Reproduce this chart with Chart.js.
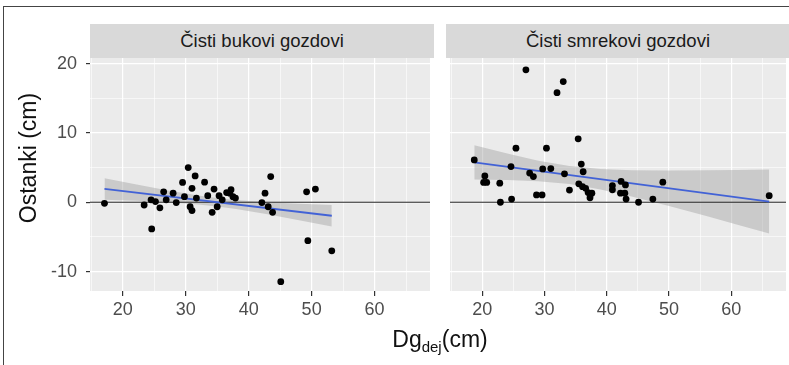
<!DOCTYPE html>
<html>
<head>
<meta charset="utf-8">
<script src="https://cdn.jsdelivr.net/npm/chart.js@4.4.1/dist/chart.umd.min.js"></script>
<style>
  html, body { margin:0; padding:0; background:#fff; }
  body { width:789px; height:365px; position:relative; overflow:hidden; font-family:"Liberation Sans", Arial, sans-serif; }
  .frame { position:absolute; left:3px; top:6px; width:800px; height:400px; border-left:1px solid #444; border-top:1px solid #444; }
  canvas { position:absolute; top:0; }
  .strip { position:absolute; top:24px; height:34px; width:344px; background:#d9d9d9; color:#1a1a1a; font-size:18.5px; line-height:34px; text-align:center; }
  .ytitle { position:absolute; left:-72px; top:144px; width:200px; height:28px; line-height:28px; font-size:23px; color:#111; text-align:center; transform:rotate(-90deg); }
  .xtitle { position:absolute; left:290px; top:324px; width:300px; height:30px; line-height:30px; font-size:23px; color:#111; text-align:center; }
  .xtitle sub { font-size:15px; line-height:1; vertical-align:-5px; }
</style>
</head>
<body>
<div class="frame"></div>
<canvas id="c1" width="434" height="365" style="left:0;width:434px;height:365px"></canvas>
<canvas id="c2" width="344" height="365" style="left:446px;width:344px;height:365px"></canvas>
<div class="strip" style="left:90px">Čisti bukovi gozdovi</div>
<div class="strip" style="left:446px">Čisti smrekovi gozdovi</div>
<div class="ytitle">Ostanki (cm)</div>
<div class="xtitle">Dg<sub>dej</sub>(cm)</div>
<script>
// ---- Data ----
const panelTitles = ["Čisti bukovi gozdovi", "Čisti smrekovi gozdovi"];

// Beech (bukovi) panel: residuals vs Dg
const bukX = [17.1,23.4,24.6,24.5,25.2,25.9,26.5,26.9,28.0,28.5,29.5,29.8,30.4,30.7,31.0,31.0,31.5,31.7,33.0,33.5,34.2,34.5,35.0,35.3,35.8,36.5,37.0,37.2,37.5,37.9,42.1,42.6,43.5,43.1,43.8,45.1,49.2,49.4,50.6,53.2];
const bukY = [-0.15,-0.4,-3.85,0.35,0.1,-0.8,1.5,0.35,1.3,-0.05,2.85,0.8,5.0,-0.65,-1.2,2.0,3.8,0.6,2.9,0.95,-1.45,1.9,-0.65,0.95,0.35,1.4,1.3,1.8,0.8,0.6,-0.05,1.3,3.7,-0.65,-1.45,-11.45,1.5,-5.55,1.9,-7.0];
const bukFitX = [17.1, 53.2];
const bukFitY = [1.92, -1.95];
const bukBandX = [17.1,22,27,32,35,38,43,48,53.2];
const bukUpper = [3.47,2.58,1.73,0.97,0.60,0.32,0.01,-0.21,-0.39];
const bukLower = [0.37,0.20,-0.01,-0.33,-0.60,-0.98,-1.73,-2.59,-3.51];

// Spruce (smrekovi) panel
const smrX = [18.7,20.4,20.2,20.7,22.8,22.9,24.7,24.6,25.4,27.0,27.6,28.2,28.7,29.6,29.7,30.3,31.0,32.0,33.0,33.2,34.0,35.4,35.9,36.2,35.5,36.1,36.6,37.0,37.3,37.6,40.9,40.9,42.3,42.2,42.9,43.0,43.1,45.1,47.4,49.0,66.1];
const smrY = [6.1,3.8,2.85,2.85,2.75,0.0,0.45,5.15,7.8,19.1,4.2,3.7,1.05,1.05,4.8,7.8,4.85,15.8,17.4,4.1,1.75,9.15,5.5,4.4,2.65,2.25,2.0,1.4,0.65,1.3,2.4,1.8,3.0,1.3,1.3,2.5,0.45,0.0,0.45,2.9,0.95];
const smrFitX = [18.7, 66.1];
const smrFitY = [5.75, 0.10];
const smrBandX = [18.7,24,29,34,39,44,50,56,61,66.1];
const smrUpper = [8.23,7.02,6.0,5.24,4.81,4.63,4.59,4.6,4.66,4.71];
const smrLower = [3.27,3.22,3.04,2.62,1.85,0.83,-0.55,-2.0,-3.24,-4.51];

const hlineY = 0;

// Axes
const xMajorTicks = [20,30,40,50,60];
const xMinorTicks = [15,25,35,45,55,65];
const yMajorTicks = [-10,0,10,20];
const yMinorTicks = [-5,5,15];
const xLimits = [14.8, 68.8];
const yLimits = [-12.8, 20.8];

// ---- Helpers ----
const zip = (xs, ys) => xs.map((x, i) => ({x: x, y: ys[i]}));

Chart.defaults.font.family = '"Liberation Sans", Arial, sans-serif';
Chart.defaults.animation = false;

const panelBg = {
  id: 'panelBg',
  beforeDraw(chart) {
    const a = chart.chartArea, ctx = chart.ctx;
    ctx.save();
    ctx.fillStyle = '#ebebeb';
    ctx.fillRect(a.left, a.top, a.right - a.left, a.bottom - a.top);
    ctx.restore();
  }
};

function buildTicks(major, minor) {
  return (scale) => {
    scale.ticks = major.concat(minor).sort((a, b) => a - b).map(v => ({value: v}));
  };
}

function makeChart(id, px, py, fx, fy, bx, bu, bl, showY) {
  const datasets = [
    { data: zip(px, py), showLine: false, pointRadius: 3.4, pointBackgroundColor: '#000', pointBorderWidth: 0, order: 0 },
    { data: zip(fx, fy), showLine: true, borderColor: '#4262d6', borderWidth: 1.8, pointRadius: 0, fill: false, order: 1 },
    { data: [{x: xLimits[0], y: hlineY}, {x: xLimits[1], y: hlineY}], showLine: true, borderColor: '#222', borderWidth: 1, pointRadius: 0, fill: false, order: 2 },
    { data: zip(bx, bu), showLine: true, borderWidth: 0, borderColor: 'rgba(0,0,0,0)', pointRadius: 0, fill: false, order: 4 },
    { data: zip(bx, bl), showLine: true, borderWidth: 0, borderColor: 'rgba(0,0,0,0)', pointRadius: 0, fill: '-1', backgroundColor: 'rgba(153,153,153,0.4)', order: 3 }
  ];
  const majorOrMinor = (list) => (ctx) => (ctx.tick && list.includes(ctx.tick.value));
  const isXMajor = majorOrMinor(xMajorTicks);
  const isYMajor = majorOrMinor(yMajorTicks);
  return new Chart(document.getElementById(id), {
    type: 'scatter',
    data: { datasets: datasets },
    plugins: [panelBg],
    options: {
      responsive: false,
      maintainAspectRatio: false,
      events: [],
      layout: { padding: { top: 58, left: 0, right: 0, bottom: 0 } },
      plugins: { legend: { display: false }, tooltip: { enabled: false }, title: { display: false } },
      scales: {
        x: {
          type: 'linear', min: xLimits[0], max: xLimits[1],
          afterBuildTicks: buildTicks(xMajorTicks, xMinorTicks),
          afterFit: (s) => { s.height = 74; },
          border: { display: false },
          grid: {
            color: '#ffffff',
            lineWidth: (c) => isXMajor(c) ? 1.2 : 0.6,
            tickColor: (c) => isXMajor(c) ? '#333333' : 'rgba(0,0,0,0)',
            tickLength: 5, drawTicks: true
          },
          ticks: {
            autoSkip: false, maxRotation: 0, padding: 3, color: '#4d4d4d', font: { size: 18 },
            callback: (v) => xMajorTicks.includes(v) ? String(v) : ''
          }
        },
        y: {
          type: 'linear', min: yLimits[0], max: yLimits[1],
          afterBuildTicks: buildTicks(yMajorTicks, yMinorTicks),
          afterFit: (s) => { s.width = showY ? 90 : 0; },
          border: { display: false },
          grid: {
            color: '#ffffff',
            lineWidth: (c) => isYMajor(c) ? 1.2 : 0.6,
            tickColor: (c) => isYMajor(c) ? '#333333' : 'rgba(0,0,0,0)',
            tickLength: 4, drawTicks: showY
          },
          ticks: {
            display: showY, autoSkip: false, padding: 9, color: '#4d4d4d', font: { size: 18 },
            callback: (v) => yMajorTicks.includes(v) ? String(v) : ''
          }
        }
      }
    }
  });
}

makeChart('c1', bukX, bukY, bukFitX, bukFitY, bukBandX, bukUpper, bukLower, true);
makeChart('c2', smrX, smrY, smrFitX, smrFitY, smrBandX, smrUpper, smrLower, false);
</script>
</body>
</html>
